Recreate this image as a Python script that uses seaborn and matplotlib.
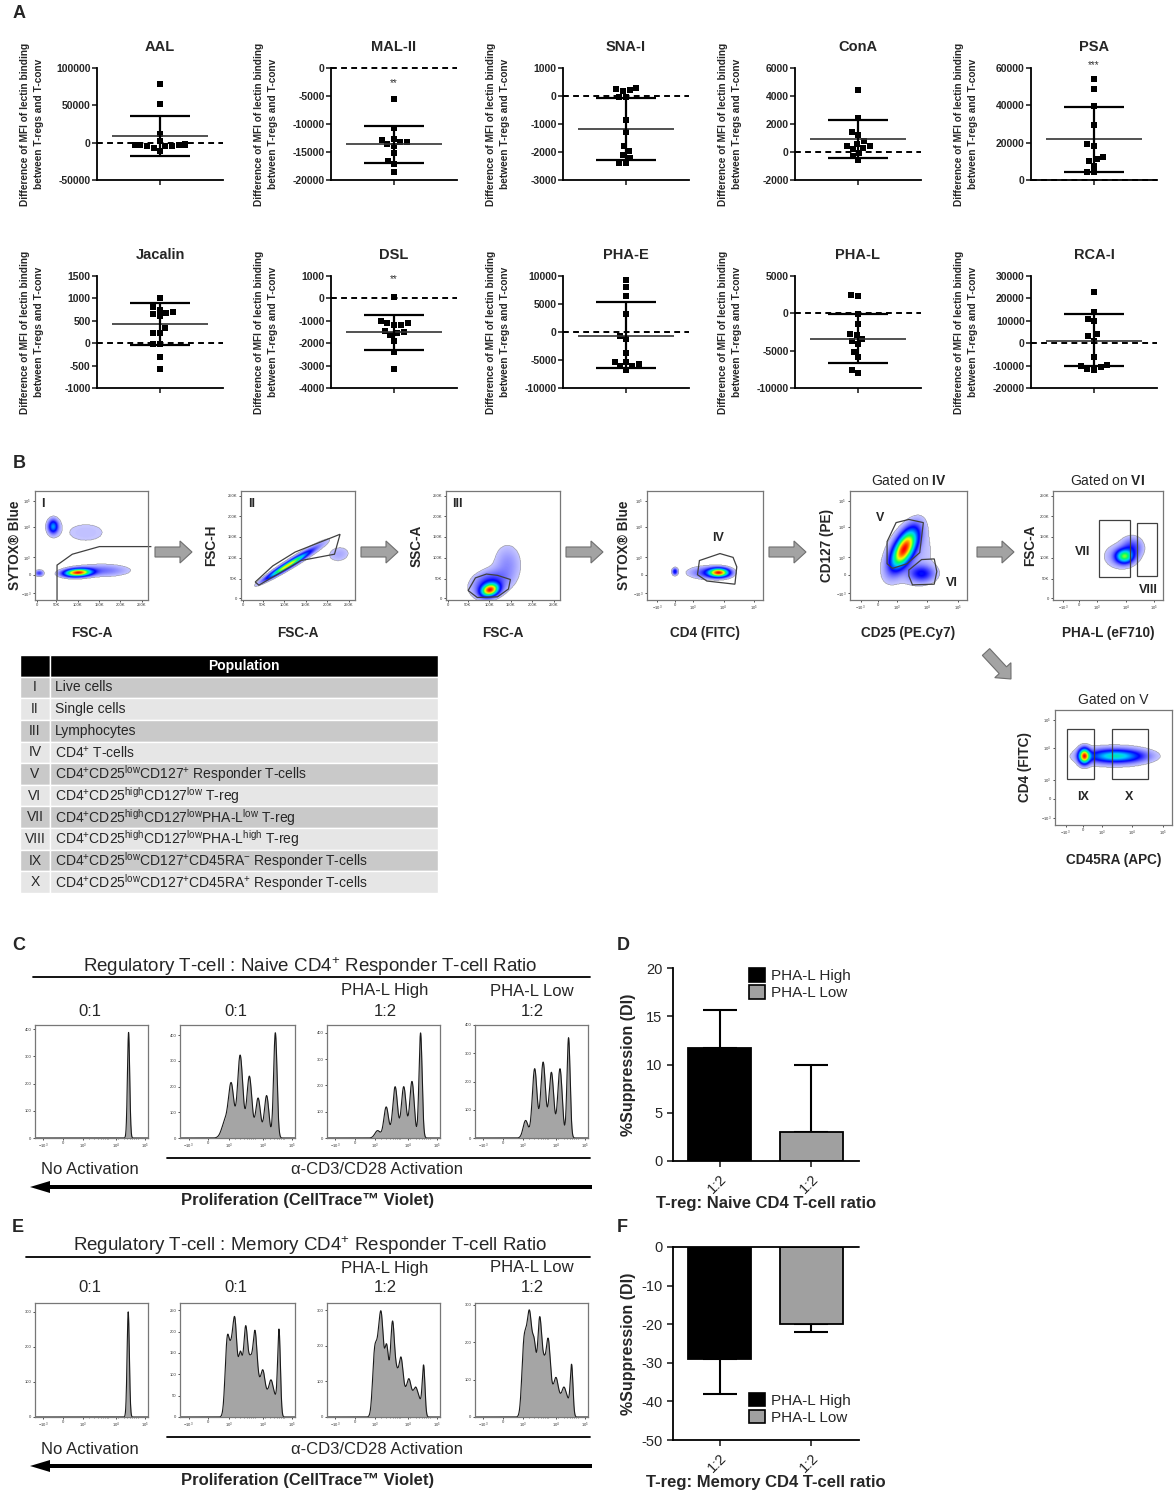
import numpy as np
import pandas as pd
import matplotlib
matplotlib.use("Agg")
import matplotlib.pyplot as plt
import seaborn as sns
from matplotlib.colors import LinearSegmentedColormap
from matplotlib.patches import FancyArrow, Patch, Polygon, Rectangle

sns.set_theme(style="ticks")
plt.rcParams["font.family"] = ["Liberation Sans", "DejaVu Sans"]
plt.rcParams["mathtext.fontset"] = "custom"
plt.rcParams["mathtext.rm"] = "Liberation Sans"
plt.rcParams["mathtext.it"] = "Liberation Sans:italic"
plt.rcParams["mathtext.bf"] = "Liberation Sans:bold"
plt.rcParams["mathtext.default"] = "regular"
plt.rcParams["axes.unicode_minus"] = False

W, H = 1175, 1492

# ---------------- Panel A: lectin binding differences ----------------
lectins = ["AAL", "MAL-II", "SNA-I", "ConA", "PSA", "Jacalin", "DSL", "PHA-E", "PHA-L", "RCA-I"]
aal = [78000, 52000, 12000, 2000, -2000, -3000, -4000, -3500, -2500, -3000, -5000, -7000, -11000, -4000]
mal2 = [-5600, -10800, -12800, -13300, -13600, -13900, -13200, -12600, -15100, -16600, -17100, -18600]
sna1 = [300, 230, 180, 250, -30, -30, -850, -1300, -1790, -1950, -2100, -2200, -2400, -2400]
cona = [4400, 2400, 1400, 1200, 600, 400, 300, 800, 400, 200, -100, -300, -600]
psa = [54000, 48500, 39500, 29300, 18400, 19200, 11000, 7700, 12300, 10000, 4300, 4100]
jacalin = [1000, 800, 750, 700, 650, 600, 670, 340, 230, 230, -20, -20, -300, -580]
dsl = [60, -1000, -1100, -1200, -1450, -1550, -1650, -1500, -1900, -2400, -3150, -1200, -1100]
pha_e = [9200, 8000, 6400, 3300, -700, -1300, -3800, -5300, -5800, -6100, -6700, -5400, -6000]
pha_l = [2450, 2300, -100, -1400, -2800, -2900, -3400, -3700, -4100, -5200, -5900, -7600, -8000]
rca1 = [23000, 13900, 11000, 9800, 3900, 3000, 1200, -6100, -9600, -10700, -11800, -11300, -10100]
lectin_values = [aal, mal2, sna1, cona, psa, jacalin, dsl, pha_e, pha_l, rca1]

lectin_mean = [9000, -13600, -1180, 900, 21800, 430, -1500, -700, -3400, 1200]
lectin_sd_hi = [36000, -10300, -60, 2300, 39000, 890, -720, 5300, -100, 13100]
lectin_sd_lo = [-18000, -16900, -2300, -450, 4500, -50, -2300, -6500, -6600, -10300]
lectin_ylim = [(-50000, 100000), (-20000, 0), (-3000, 1000), (-2000, 6000), (0, 60000),
               (-1000, 1500), (-4000, 1000), (-10000, 10000), (-10000, 5000), (-20000, 30000)]
lectin_step = [50000, 5000, 1000, 2000, 20000, 500, 1000, 5000, 5000, 10000]
lectin_stars = {"MAL-II": ("**", -2700), "PSA": ("***", 61500), "DSL": ("**", 850)}

# ---------------- Panel B: gating populations (axes fractions) ----------------
# (x, y, sx, sy, angle, level)
live_blobs = [(0.38, 0.25, 0.075, 0.022, 3, 1.0), (0.16, 0.675, 0.028, 0.04, 0, 0.35),
              (0.60, 0.27, 0.15, 0.035, 0, 0.10), (0.035, 0.245, 0.025, 0.018, 0, 0.15),
              (0.45, 0.62, 0.26, 0.13, 0, 0.03)]
single_blobs = [(0.40, 0.31, 0.13, 0.016, 33, 0.68), (0.52, 0.39, 0.17, 0.025, 33, 0.12),
                (0.86, 0.42, 0.07, 0.05, 10, 0.05)]
lympho_blobs = [(0.385, 0.09, 0.05, 0.035, 20, 1.0), (0.38, 0.15, 0.10, 0.07, 20, 0.2),
                (0.54, 0.33, 0.08, 0.12, 0, 0.08)]
cd4_blobs = [(0.62, 0.25, 0.055, 0.025, 0, 1.0), (0.52, 0.25, 0.10, 0.035, 0, 0.15),
             (0.24, 0.26, 0.015, 0.02, 0, 0.25)]
cd25_blobs = [(0.46, 0.47, 0.05, 0.12, -25, 1.0), (0.61, 0.24, 0.07, 0.05, 0, 0.2),
              (0.50, 0.40, 0.15, 0.20, -25, 0.05)]
phal_blobs = [(0.65, 0.40, 0.05, 0.04, 0, 0.55), (0.72, 0.48, 0.06, 0.06, 0, 0.15),
              (0.60, 0.40, 0.10, 0.08, 0, 0.06)]
cd45_blobs = [(0.25, 0.60, 0.03, 0.04, 0, 1.0), (0.52, 0.60, 0.15, 0.035, 0, 0.45),
              (0.50, 0.60, 0.20, 0.06, 0, 0.08)]

gate_i = [(0.195, 0.0), (0.195, 0.32), (0.33, 0.42), (0.57, 0.49), (1.03, 0.49)]
gate_ii = [(0.125, 0.165), (0.279, 0.313), (0.475, 0.44), (0.869, 0.603), (0.82, 0.42),
           (0.525, 0.362), (0.157, 0.136)]
gate_iii = [(0.194, 0.087), (0.258, 0.203), (0.355, 0.238), (0.452, 0.226), (0.565, 0.188),
            (0.548, 0.101), (0.452, 0.029), (0.274, 0.023)]
gate_iv = [(0.452, 0.362), (0.629, 0.426), (0.742, 0.391), (0.774, 0.304), (0.758, 0.145),
           (0.516, 0.174), (0.435, 0.232)]
gate_v = [(0.317, 0.536), (0.394, 0.71), (0.503, 0.739), (0.627, 0.71), (0.596, 0.435),
          (0.488, 0.333), (0.363, 0.29), (0.317, 0.333)]
gate_vi = [(0.503, 0.275), (0.612, 0.371), (0.72, 0.377), (0.742, 0.261), (0.72, 0.145),
           (0.534, 0.139), (0.503, 0.22)]
gate_vii = (0.417, 0.212, 0.283, 0.518)
gate_viii = (0.767, 0.217, 0.176, 0.493)
gate_ix = (0.103, 0.396, 0.229, 0.443)
gate_x = (0.485, 0.396, 0.309, 0.443)

lin_tick_labels = ["0", "50K", "100K", "150K", "200K", "250K"]
log_tick_labels = ["$-10^3$", "0", "$10^3$", "$10^4$", "$10^5$"]

pop_ids = ["I", "II", "III", "IV", "V", "VI", "VII", "VIII", "IX", "X"]
pop_names = [
    "Live cells",
    "Single cells",
    "Lymphocytes",
    "CD4$^{+}$ T-cells",
    "CD4$^{+}$CD25$^{low}$CD127$^{+}$ Responder T-cells",
    "CD4$^{+}$CD25$^{high}$CD127$^{low}$ T-reg",
    "CD4$^{+}$CD25$^{high}$CD127$^{low}$PHA-L$^{low}$ T-reg",
    "CD4$^{+}$CD25$^{high}$CD127$^{low}$PHA-L$^{high}$ T-reg",
    "CD4$^{+}$CD25$^{low}$CD127$^{+}$CD45RA$^{-}$ Responder T-cells",
    "CD4$^{+}$CD25$^{low}$CD127$^{+}$CD45RA$^{+}$ Responder T-cells",
]

# ---------------- Panels C / E: proliferation histograms ----------------
c_peak_pos = [[0.828],
              [0.394, 0.446, 0.523, 0.603, 0.679, 0.753, 0.829],
              [0.448, 0.524, 0.603, 0.679, 0.752, 0.828],
              [0.448, 0.528, 0.603, 0.676, 0.752, 0.828]]
c_peak_h = [[388],
            [65, 200, 322, 240, 155, 165, 410],
            [28, 118, 195, 195, 215, 400],
            [62, 245, 268, 232, 245, 355]]
c_peak_w = [[0.010],
            [0.030, 0.023, 0.023, 0.022, 0.021, 0.020, 0.015],
            [0.024, 0.021, 0.021, 0.021, 0.020, 0.014],
            [0.022, 0.021, 0.021, 0.021, 0.020, 0.014]]
c_ymax = [415, 440, 430, 400]
c_yticks = [[0, 100, 200, 300, 400], [0, 100, 200, 300, 400], [0, 100, 200, 300, 400], [0, 100, 200, 300, 400]]

e_peak_pos = [[0.825],
              [0.41, 0.445, 0.478, 0.525, 0.571, 0.612, 0.652, 0.687, 0.721, 0.756, 0.791, 0.826, 0.861],
              [0.421, 0.455, 0.483, 0.528, 0.579, 0.617, 0.655, 0.69, 0.724, 0.755, 0.786, 0.82, 0.855],
              [0.431, 0.46, 0.486, 0.524, 0.572, 0.61, 0.648, 0.683, 0.717, 0.75, 0.786, 0.82, 0.855]]
e_peak_h = [[300],
            [170, 120, 205, 140, 200, 115, 185, 55, 95, 40, 75, 40, 200],
            [170, 150, 235, 190, 255, 100, 150, 50, 90, 40, 68, 40, 140],
            [170, 130, 215, 180, 250, 120, 190, 50, 90, 40, 68, 40, 135]]
e_peak_w = [[0.010],
            [0.018] * 12 + [0.012],
            [0.018] * 12 + [0.012],
            [0.018] * 12 + [0.012]]
e_ymax = [325, 267, 320, 305]
e_yticks = [[0, 100, 200, 300], [0, 50, 100, 150, 200, 250], [0, 100, 200, 300], [0, 100, 200, 300]]

# ---------------- Panels D / F: suppression ----------------
supp_groups = ["PHA-L High", "PHA-L Low"]
naive_supp = [11.7, 3.05]
naive_err = [3.9, 6.95]
memory_supp = [-28.9, -19.9]
memory_err = [9.3, 2.2]

# =================================================================
fig = plt.figure(figsize=(W / 100, H / 100), dpi=100)
bg = fig.add_axes([0, 0, 1, 1])
bg.set_xlim(0, W)
bg.set_ylim(H, 0)
bg.axis("off")


def px_axes(x0, y0, x1, y1):
    return fig.add_axes([x0 / W, 1 - y1 / H, (x1 - x0) / W, (y1 - y0) / H])


for letter, (lx, ly) in zip("ABCDEF", [(13, 13), (13, 463), (12, 945), (617, 946), (12, 1227), (617, 1227)]):
    bg.text(lx, ly, letter, fontsize=13, fontweight="bold", ha="left", va="center")

# ---- Panel A ----
col_centers = [160, 394, 626, 858, 1094]
for i, name in enumerate(lectins):
    row, col = divmod(i, 5)
    c = col_centers[col]
    top = 68 if row == 0 else 276
    ax = px_axes(c - 63, top, c + 63, top + 112)
    df = pd.DataFrame({"g": 0, "v": lectin_values[i]})
    sns.swarmplot(data=df, x="g", y="v", ax=ax, color="black", marker="s", size=4.8, linewidth=0)
    lo, hi = lectin_ylim[i]
    ax.axhline(0, color="black", lw=1.4, ls=(0, (3, 2.2)), zorder=1, clip_on=False)
    ax.hlines(lectin_mean[i], -0.76, 0.76, color="#333333", lw=1.2, zorder=3)
    ax.vlines(0, lectin_sd_lo[i], lectin_sd_hi[i], color="black", lw=1.6, zorder=3)
    ax.hlines([lectin_sd_lo[i], lectin_sd_hi[i]], -0.47, 0.47, color="black", lw=1.6, zorder=3)
    if name in lectin_stars:
        s, yv = lectin_stars[name]
        ax.text(0, yv, s, ha="center", va="center", fontsize=7, color="#333333", clip_on=False)
    ax.set_xlim(-1, 1)
    ax.set_ylim(lo, hi)
    ax.set_yticks(np.arange(lo, hi + 1, lectin_step[i]))
    ax.set_xticks([0])
    ax.set_xticklabels([""])
    ax.set_xlabel("")
    ax.set_ylabel("Difference of MFI of lectin binding\nbetween T-regs and T-conv",
                  fontsize=7.3, fontweight="bold", linespacing=1.45)
    ax.yaxis.set_label_coords(-0.42, 0.5)
    ax.set_title(name, fontsize=10.5, fontweight="bold", pad=12)
    ax.tick_params(axis="both", labelsize=7.5, length=3.5, width=1.2, pad=1)
    for t in ax.get_yticklabels():
        t.set_fontweight("bold")
    sns.despine(ax=ax)
    for sp in ["left", "bottom"]:
        ax.spines[sp].set_linewidth(1.3)
        ax.spines[sp].set_color("black")

# ---- Panel B ----
flow_cmap = LinearSegmentedColormap.from_list(
    "flow", [(0, "#e2e2ff"), (0.08, "#8484ff"), (0.2, "#0000ff"), (0.4, "#00d0ff"),
             (0.55, "#00ff60"), (0.72, "#ffff00"), (0.86, "#ff8000"), (1.0, "#ff0000")])
grid = np.linspace(0, 1, 220)
GX, GY = np.meshgrid(grid, grid)
lin_pos = [0.015, 0.19, 0.378, 0.567, 0.756, 0.945]
lin_ypos = [0.014, 0.197, 0.386, 0.58, 0.768, 0.957]
log_pos = [0.06, 0.23, 0.39, 0.67, 0.91]
logx_pos = [0.09, 0.24, 0.40, 0.66, 0.92]


def flow_plot(box, blobs, xscale, yscale, xlabel, ylabel, ylab_x):
    ax = px_axes(*box)
    z = np.zeros_like(GX)
    for cx, cy, sx, sy, ang, w in blobs:
        t = np.deg2rad(ang)
        u = (GX - cx) * np.cos(t) + (GY - cy) * np.sin(t)
        v = -(GX - cx) * np.sin(t) + (GY - cy) * np.cos(t)
        z += w * np.exp(-0.5 * ((u / sx) ** 2 + (v / sy) ** 2))
    z = z / max(1.0, z.max())
    ax.imshow(np.ma.masked_less(z, 0.025), origin="lower", extent=[0, 1, 0, 1], cmap=flow_cmap,
              vmin=0, vmax=1, aspect="auto", interpolation="bilinear")
    ax.set_xlim(0, 1)
    ax.set_ylim(0, 1)
    if xscale == "lin":
        ax.set_xticks(lin_pos, lin_tick_labels)
    else:
        ax.set_xticks(logx_pos, log_tick_labels)
    if yscale == "lin":
        ax.set_yticks(lin_ypos, lin_tick_labels)
    else:
        ax.set_yticks(log_pos, log_tick_labels)
    ax.tick_params(labelsize=3, length=1.5, width=0.6, pad=1, colors="#333333")
    for sp in ax.spines.values():
        sp.set_color("#777777")
        sp.set_linewidth(0.9)
    ax.set_xlabel(xlabel, fontsize=9.8, fontweight="bold")
    ax.xaxis.set_label_coords(0.5, -0.24)
    ax.set_ylabel(ylabel, fontsize=9.8, fontweight="bold")
    ax.yaxis.set_label_coords(ylab_x, 0.5)
    return ax


def gate_poly(ax, pts, closed=True):
    ax.add_patch(Polygon(pts, closed=closed, fill=False, ec="#404040", lw=0.9, clip_on=False))


def gate_rect(ax, r):
    ax.add_patch(Rectangle((r[0], r[1]), r[2], r[3], fill=False, ec="#404040", lw=0.9))


def gate_label(ax, x, y, s):
    ax.text(x, y, s, transform=ax.transAxes, fontsize=9, fontweight="bold", ha="center", va="center")


ax1 = flow_plot((35, 491, 148, 600), live_blobs, "lin", "log", "FSC-A", "SYTOX® Blue", -0.12)
gate_poly(ax1, gate_i, closed=False)
gate_label(ax1, 0.07, 0.88, "I")
ax2 = flow_plot((241, 491, 355, 600), single_blobs, "lin", "lin", "FSC-A", "FSC-H", -0.2)
gate_poly(ax2, gate_ii)
gate_label(ax2, 0.09, 0.88, "II")
ax3 = flow_plot((446, 491, 560, 600), lympho_blobs, "lin", "lin", "FSC-A", "SSC-A", -0.2)
gate_poly(ax3, gate_iii)
gate_label(ax3, 0.1, 0.88, "III")
ax4 = flow_plot((647, 491, 763, 600), cd4_blobs, "log", "log", "CD4 (FITC)", "SYTOX® Blue", -0.14)
gate_poly(ax4, gate_iv)
gate_label(ax4, 0.61, 0.57, "IV")
ax5 = flow_plot((850, 491, 967, 600), cd25_blobs, "log", "log", "CD25 (PE.Cy7)", "CD127 (PE)", -0.14)
gate_poly(ax5, gate_v)
gate_poly(ax5, gate_vi)
gate_label(ax5, 0.26, 0.75, "V")
gate_label(ax5, 0.87, 0.16, "VI")
ax5.set_title("Gated on $\\mathbf{IV}$", fontsize=10, pad=4)
ax6 = flow_plot((1053, 491, 1163, 600), phal_blobs, "log", "lin", "PHA-L (eF710)", "FSC-A", -0.14)
gate_rect(ax6, gate_vii)
gate_rect(ax6, gate_viii)
gate_label(ax6, 0.27, 0.44, "VII")
gate_label(ax6, 0.87, 0.09, "VIII")
ax6.set_title("Gated on $\\mathbf{VI}$", fontsize=10, pad=4)
ax7 = flow_plot((1055, 710, 1172, 825), cd45_blobs, "log", "log", "CD45RA (APC)", "CD4 (FITC)", -0.2)
gate_rect(ax7, gate_ix)
gate_rect(ax7, gate_x)
gate_label(ax7, 0.24, 0.24, "IX")
gate_label(ax7, 0.63, 0.24, "X")
ax7.set_title("Gated on V", fontsize=10, pad=4)

for x0, x1 in [(155, 192), (361, 398), (566, 603), (769, 806), (977, 1014)]:
    bg.add_patch(FancyArrow(x0, 552, x1 - x0, 0, width=10, head_width=22, head_length=12,
                            length_includes_head=True, fc="#a3a3a3", ec="#6f6f6f", lw=0.8))
bg.add_patch(FancyArrow(986, 652, 25, 27, width=10, head_width=22, head_length=12,
                        length_includes_head=True, fc="#a3a3a3", ec="#6f6f6f", lw=0.8))

# table
tab_ax = px_axes(20, 655, 438, 893)
tab_ax.axis("off")
cells = [["", "Population"]] + [[a, b] for a, b in zip(pop_ids, pop_names)]
tbl = tab_ax.table(cellText=cells, colWidths=[30 / 418, 388 / 418], bbox=[0, 0, 1, 1], cellLoc="left")
tbl.auto_set_font_size(False)
tbl.set_fontsize(10)
for (r, cidx), cell in tbl.get_celld().items():
    cell.set_edgecolor("white")
    cell.set_linewidth(1.0)
    if r == 0:
        cell.set_facecolor("black")
        cell.get_text().set_color("white")
        cell.get_text().set_fontweight("bold")
        cell.get_text().set_ha("center")
        cell._loc = "center"
    else:
        cell.set_facecolor("#c9c9c9" if r % 2 == 1 else "#e6e6e6")
    if cidx == 0:
        cell._loc = "center"
        cell.get_text().set_ha("center")
    else:
        cell.PAD = 0.012

# ---- Panels C / E ----
hist_x = [(35, 148), (180, 295), (327, 440), (475, 588)]
hx = np.linspace(0, 1, 700)
minor_pos = []
for a, b in [(0.40, 0.66), (0.66, 0.92)]:
    minor_pos += [a + (b - a) * np.log10(k) for k in range(2, 10)]


def hist_row(y0, y1, pos, hts, wds, ymaxes, yticks, title, title_y, line_y, head_y, under_y,
             text_y, arrow_y, prolif_y, tl_x):
    for k, (x0, x1) in enumerate(hist_x):
        ax = px_axes(x0, y0, x1, y1)
        curve = np.zeros_like(hx)
        for p, h, w in zip(pos[k], hts[k], wds[k]):
            curve += h * np.exp(-0.5 * ((hx - p) / w) ** 2)
        ax.fill_between(hx, curve, color="#a5a5a5", lw=0)
        ax.plot(hx, curve, color="#1a1a1a", lw=0.8)
        ax.set_xlim(0, 1)
        ax.set_ylim(0, ymaxes[k])
        ax.set_xticks([0.075, 0.247, 0.427, 0.72, 0.973], log_tick_labels)
        ax.set_xticks(minor_pos, minor=True)
        ax.set_yticks(yticks[k], [str(v) for v in yticks[k]])
        ax.tick_params(labelsize=3, length=1.5, width=0.6, pad=1, colors="#333333")
        ax.tick_params(which="minor", length=1, width=0.4)
        for sp in ax.spines.values():
            sp.set_color("#777777")
            sp.set_linewidth(0.9)
    bg.text(310, title_y, title, fontsize=13.5, ha="center", va="center")
    bg.plot([tl_x, 590], [line_y, line_y], color="black", lw=1.3)
    for cx, lab in zip([90, 236, 385, 532], ["0:1", "0:1", "1:2", "1:2"]):
        bg.text(cx, head_y, lab, fontsize=12, ha="center", va="center")
    bg.text(385, head_y - 20, "PHA-L High", fontsize=12, ha="center", va="center")
    bg.text(532, head_y - 20, "PHA-L Low", fontsize=12, ha="center", va="center")
    bg.plot([167, 590], [under_y, under_y], color="black", lw=1.3)
    bg.text(90, text_y, "No Activation", fontsize=12, ha="center", va="center")
    bg.text(377, text_y, "α-CD3/CD28 Activation", fontsize=12, ha="center", va="center")
    bg.add_patch(FancyArrow(592, arrow_y, -562, 0, width=4, head_width=12, head_length=20,
                            length_includes_head=True, fc="black", ec="black", lw=0))
    bg.text(308, prolif_y, "Proliferation (CellTrace™ Violet)", fontsize=12, fontweight="bold",
            ha="center", va="center")


hist_row(1025, 1138, c_peak_pos, c_peak_h, c_peak_w, c_ymax, c_yticks,
         "Regulatory T-cell : Naive CD4$^{+}$ Responder T-cell Ratio",
         967, 977, 1011, 1158, 1170, 1187, 1200, 33)
hist_row(1303, 1417, e_peak_pos, e_peak_h, e_peak_w, e_ymax, e_yticks,
         "Regulatory T-cell : Memory CD4$^{+}$ Responder T-cell Ratio",
         1246, 1257, 1288, 1437, 1450, 1466, 1480, 26)

# ---- Panels D / F ----
bar_colors = ["black", "#a0a0a0"]


def supp_plot(box, vals, errs, lower, ylim, yticks, xlabel, leg_anchor):
    ax = px_axes(*box)
    sns.barplot(x=supp_groups, y=vals, hue=supp_groups, palette=bar_colors, width=0.69,
                edgecolor="black", linewidth=1.3, legend=False, ax=ax, errorbar=None)
    if lower:
        yerr = [errs, [0, 0]]
    else:
        yerr = [[0, 0], errs]
    ax.errorbar([0, 1], vals, yerr=yerr, fmt="none", ecolor="black", elinewidth=1.5,
                capsize=12, capthick=1.5, zorder=0)
    ax.set_xlim(-0.51, 1.52)
    ax.set_ylim(*ylim)
    ax.set_yticks(yticks)
    ax.set_xticks([0, 1])
    ax.set_xticklabels(["1:2", "1:2"], rotation=45, ha="right", rotation_mode="anchor")
    ax.tick_params(axis="both", labelsize=10.5, length=4, width=1.2)
    ax.set_ylabel("%Suppression (DI)", fontsize=11.5, fontweight="bold")
    ax.yaxis.set_label_coords(-0.2, 0.5)
    ax.set_xlabel(xlabel, fontsize=12, fontweight="bold", labelpad=0)
    sns.despine(ax=ax)
    for sp in ["left", "bottom"]:
        ax.spines[sp].set_linewidth(1.3)
        ax.spines[sp].set_color("black")
    if ylim[1] == 0:
        ax.axhline(0, color="black", lw=1.3, zorder=5, clip_on=False)
    handles = [Patch(fc=c, ec="black", lw=1.2) for c in bar_colors]
    ax.legend(handles, supp_groups, loc="upper left", bbox_to_anchor=leg_anchor, frameon=False,
              fontsize=11, handlelength=1.0, handleheight=1.0, handletextpad=0.4,
              labelspacing=0.12, borderpad=0, borderaxespad=0)
    return ax


supp_plot((673, 968, 859, 1161), naive_supp, naive_err, False, (0, 20), [0, 5, 10, 15, 20],
          "T-reg: Naive CD4 T-cell ratio", (0.41, 1.0))
supp_plot((673, 1247, 859, 1440), memory_supp, memory_err, True, (-50, 0), [0, -10, -20, -30, -40, -50],
          "T-reg: Memory CD4 T-cell ratio", (0.41, 0.245))

fig.savefig("out.png", dpi=100)
